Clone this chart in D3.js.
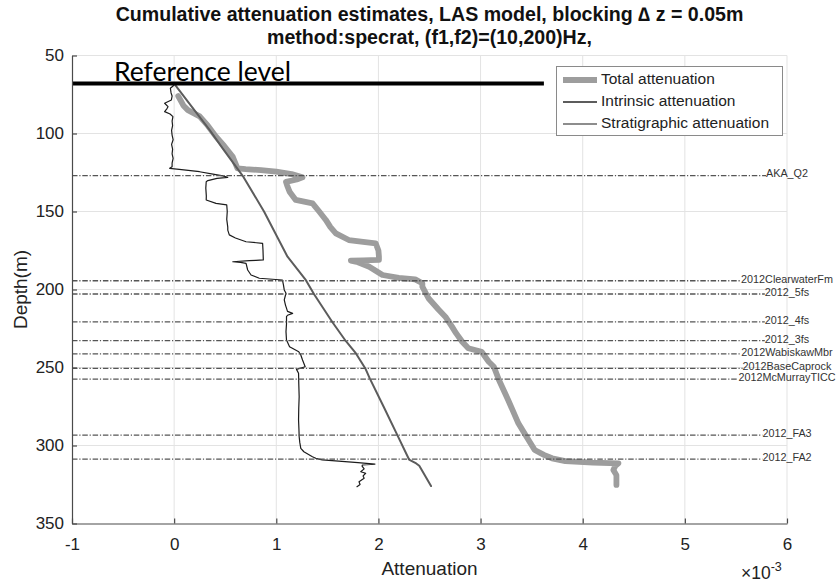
<!DOCTYPE html>
<html>
<head>
<meta charset="utf-8">
<script src="https://cdn.jsdelivr.net/npm/d3@7"></script>
<style>
  html, body { margin: 0; padding: 0; background: #fff; }
  svg { display: block; }
  text { font-family: "Liberation Sans", Arial, sans-serif; fill: #222; }
</style>
</head>
<body>
<svg id="chart" width="839" height="582"></svg>
<script>
// Cumulative attenuation (x1e-3) versus depth (m), as [depth, value] pairs
const totalAtten = [
  [76,0.04],[79.6,0.07],[82,0.09],[85,0.135],[89,0.25],[95,0.33],[102,0.41],[108,0.49],
  [115,0.574],[122.3,0.62],[122.8,0.70],[123.5,0.85],[124.5,1.0],[126,1.15],[128.1,1.257],
  [129.5,1.2],[131,1.095],[134,1.11],[137.3,1.13],[142.6,1.19],[144.8,1.355],[150,1.42],
  [155.4,1.485],[160,1.53],[164,1.583],[168.3,1.71],[169.5,1.85],[170.4,1.973],[175,2.0],
  [179,2.005],[181,2.005],[181.3,1.85],[181.5,1.73],[182.5,1.80],[185.4,1.91],[190.7,2.04],
  [192.5,2.2],[193.5,2.36],[196,2.43],[198.2,2.43],[205.6,2.49],[213,2.59],[217.4,2.655],
  [223.8,2.72],[228,2.76],[233.5,2.82],[237.7,2.88],[239.9,3.01],[246.3,3.08],[249.5,3.13],
  [258,3.18],[270.8,3.27],[285.8,3.37],[294.4,3.45],[302.9,3.53],[306,3.62],[308.2,3.70],
  [310,3.83],[311,4.1],[311.4,4.35],[313,4.32],[315.7,4.30],[319,4.33],[322,4.33],[325.3,4.33]
];

const intrinsicAtten = [
  [68,0.0],[80,0.14],[98,0.35],[110,0.48],[128,0.68],[150,0.88],[179,1.11],[194,1.29],
  [203,1.37],[221,1.55],[233,1.68],[241,1.78],[251,1.875],[257,1.915],[275,2.05],[294,2.19],
  [309,2.30],[311.5,2.37],[313,2.40],[326,2.515]
];

const stratAtten = [
  [68,0.0],[69.5,-0.01],[71,-0.037],[74,-0.03],[76,-0.02],[78.5,-0.027],[80.6,-0.093],
  [82.8,-0.06],[84,-0.07],[86,-0.093],[87.5,-0.04],[89.2,-0.012],[92,-0.02],[95,-0.015],
  [98,-0.025],[101,-0.02],[104,-0.01],[107,-0.025],[110,-0.015],[113,-0.02],[116,-0.01],
  [119,-0.02],[121.3,-0.02],[122.3,-0.044],[123,0.05],[124.5,0.249],[126,0.38],[127.2,0.476],
  [128.1,0.525],[128.8,0.42],[130.2,0.33],[130.9,0.314],[135,0.31],[140,0.315],[142.6,0.314],
  [144.8,0.41],[145.8,0.515],[150,0.52],[155,0.515],[160,0.525],[161.9,0.525],[165,0.54],
  [167,0.6],[169.4,0.704],[170.4,0.866],[175,0.87],[181,0.873],[181.3,0.8],[181.5,0.737],
  [182.2,0.574],[182.6,0.65],[183.2,0.704],[187.5,0.72],[190.7,0.753],[192.8,0.834],
  [193.9,1.06],[197,1.07],[200.3,1.078],[202.4,1.095],[206.7,1.078],[210,1.09],[214,1.11],
  [215.3,1.16],[216.5,1.11],[217.4,1.10],[222,1.1],[227,1.095],[232.4,1.10],[236.7,1.13],
  [239.9,1.22],[242,1.24],[245.2,1.257],[249.5,1.283],[251.2,1.198],[253.7,1.218],[260,1.22],
  [268.7,1.224],[276,1.22],[283.7,1.218],[290,1.222],[294.4,1.224],[298,1.23],[301.8,1.24],
  [304,1.27],[307.2,1.354],[308.2,1.387],[309.2,1.45],[310,1.61],[311,1.8],[311.9,1.966],
  [312.5,1.843],[313.2,1.84],[315,1.86],[316.8,1.827],[317.8,1.875],[319.5,1.85],[321,1.86],
  [323.2,1.81],[325,1.82],[326.4,1.79]
];

// Formation tops (m)
const horizonNames  = ["AKA_Q2","2012ClearwaterFm","2012_5fs","2012_4fs","2012_3fs",
                       "2012WabiskawMbr","2012BaseCaprock","2012McMurrayTICC","2012_FA3","2012_FA2"];
const horizonDepths = [127, 194.4, 202.9, 220.8, 232.8, 241.3, 250.6, 257.4, 293.3, 308.7];

const referenceDepth = 68;
const referenceEnd = 3.62;

const xTicks = [-1, 0, 1, 2, 3, 4, 5, 6];
const yTicks = [50, 100, 150, 200, 250, 300, 350];

const seriesNames = ["Total attenuation", "Intrinsic attenuation", "Stratigraphic attenuation"];

const titleLines = ["Cumulative attenuation estimates, LAS model, blocking \u2206 z = 0.05m",
                    "method:specrat, (f1,f2)=(10,200)Hz,"];

// ---- layout ----
const svg = d3.select("#chart");
const plotL = 72, plotR = 787, plotT = 55.5, plotB = 523.5;
const x = d3.scaleLinear().domain([-1, 6]).range([plotL, plotR]);
const y = d3.scaleLinear().domain([50, 350]).range([plotT, plotB]);

const seriesStyle = [
  { color: "#9d9d9d", width: 5.8 },
  { color: "#5c5c5c", width: 2 },
  { color: "#1c1c1c", width: 1.2 }
];

// grid
const grid = svg.append("g").attr("stroke", "#e3e3e3").attr("stroke-width", 1);
grid.selectAll(".gx").data(xTicks.slice(1)).join("line")
  .attr("x1", d => x(d)).attr("x2", d => x(d)).attr("y1", plotT).attr("y2", plotB);
grid.selectAll(".gy").data(yTicks.slice(0, -1)).join("line")
  .attr("x1", plotL).attr("x2", plotR).attr("y1", d => y(d)).attr("y2", d => y(d));

// series lines
const line = d3.line().x(d => x(d[1])).y(d => y(d[0]));
[totalAtten, intrinsicAtten, stratAtten].forEach((s, i) => {
  svg.append("path").datum(s)
    .attr("d", line)
    .attr("fill", "none")
    .attr("stroke", seriesStyle[i].color)
    .attr("stroke-width", seriesStyle[i].width)
    .attr("stroke-linejoin", "round")
    .attr("stroke-linecap", "round");
});

// formation tops: dash-dot lines with names centred on the right edge
const hz = svg.append("g");
horizonNames.forEach((name, i) => {
  const yy = y(horizonDepths[i]);
  const t = hz.append("text")
    .attr("x", x(6)).attr("y", yy - 1)
    .attr("text-anchor", "middle")
    .attr("dominant-baseline", "middle")
    .style("font-size", "10.8px")
    .style("fill", "#333")
    .text(name);
  const bb = t.node().getBBox();
  hz.insert("line", "text")
    .attr("x1", x(-1)).attr("x2", bb.x)
    .attr("y1", yy).attr("y2", yy)
    .attr("stroke", "#555")
    .attr("stroke-width", 1.3)
    .attr("stroke-dasharray", "5.5,1.8,1.2,1.8");
});

// reference level
svg.append("line")
  .attr("x1", x(-1)).attr("x2", x(referenceEnd))
  .attr("y1", y(referenceDepth)).attr("y2", y(referenceDepth))
  .attr("stroke", "#000").attr("stroke-width", 4);
const refText = svg.append("text")
  .attr("x", 114).attr("y", y(referenceDepth) - 3)
  .style("font-family", "Lato, 'Open Sans', sans-serif")
  .style("font-size", "26px")
  .style("fill", "#000")
  .text("Reference level");
const refW = refText.node().getComputedTextLength();
refText.style("font-size", (26 * 177 / refW).toFixed(2) + "px");

// axes
const plain = d => String(d);
const xAxis = d3.axisBottom(x).tickValues(xTicks).tickFormat(plain)
  .tickSizeInner(-5).tickSizeOuter(0).tickPadding(14);
const yAxis = d3.axisLeft(y).tickValues(yTicks).tickFormat(plain)
  .tickSizeInner(-5).tickSizeOuter(0).tickPadding(8);

const gx = svg.append("g").attr("transform", `translate(0,${plotB})`).call(xAxis);
const gy = svg.append("g").attr("transform", `translate(${plotL},0)`).call(yAxis);
[gx, gy].forEach(g => {
  g.select(".domain").attr("stroke", "#4a4a4a").attr("stroke-width", 1.2);
  g.selectAll(".tick line").attr("stroke", "#4a4a4a").attr("stroke-width", 1.2);
  g.selectAll(".tick text").style("font-size", "17px").style("fill", "#222")
    .style("font-family", "'Liberation Sans', Arial, sans-serif");
});

// axis labels
svg.append("text")
  .attr("x", (plotL + plotR) / 2).attr("y", 575)
  .attr("text-anchor", "middle")
  .style("font-size", "19px")
  .text("Attenuation");
svg.append("text")
  .attr("transform", `translate(27,${(plotT + plotB) / 2}) rotate(-90)`)
  .attr("text-anchor", "middle")
  .style("font-size", "19px")
  .text("Depth(m)");
const mult = svg.append("text").attr("x", 741).attr("y", 579).style("font-size", "17.5px");
mult.append("tspan").text("\u00d710");
mult.append("tspan").attr("dy", -8).style("font-size", "12.5px").text("-3");

// title
titleLines.forEach((t, i) => {
  svg.append("text")
    .attr("x", (plotL + plotR) / 2).attr("y", 21 + i * 23)
    .attr("text-anchor", "middle")
    .style("font-size", "19.6px")
    .style("font-weight", "bold")
    .style("fill", "#111")
    .text(t);
});

// legend
const lg = svg.append("g");
lg.append("rect")
  .attr("x", 556.5).attr("y", 66.5).attr("width", 226).attr("height", 69)
  .attr("fill", "#fff").attr("stroke", "#8a8a8a").attr("stroke-width", 1);
seriesNames.forEach((name, i) => {
  const yy = 80 + i * 22;
  lg.append("line")
    .attr("x1", 563).attr("x2", 597).attr("y1", yy).attr("y2", yy)
    .attr("stroke", seriesStyle[i].color)
    .attr("stroke-width", seriesStyle[i].width);
  lg.append("text")
    .attr("x", 601).attr("y", yy)
    .attr("dominant-baseline", "middle")
    .style("font-size", "15.5px")
    .text(name);
});
</script>
</body>
</html>
